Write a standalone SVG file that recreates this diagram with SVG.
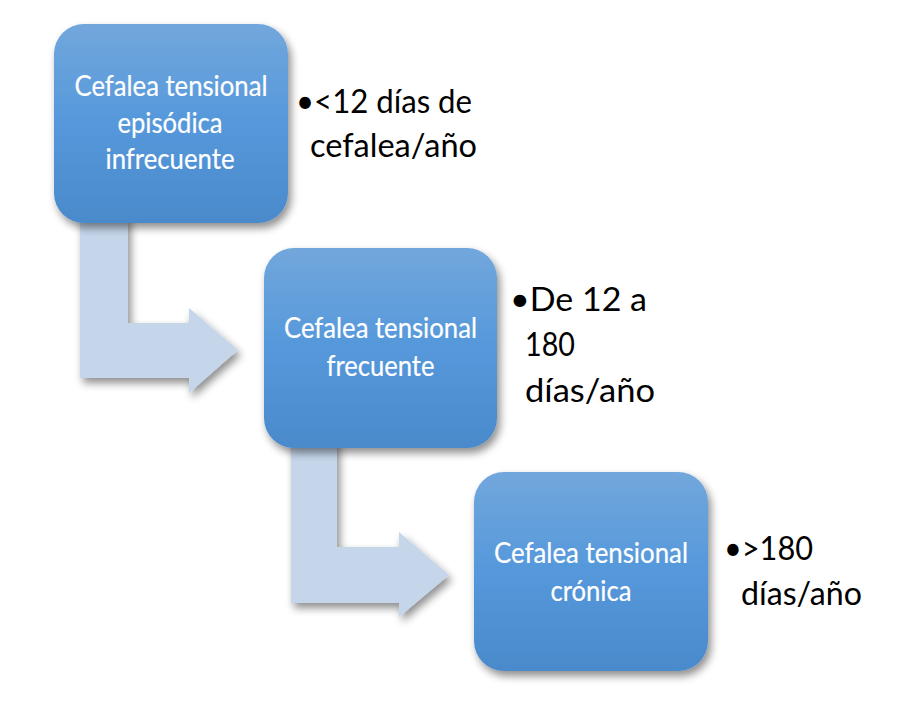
<svg xmlns="http://www.w3.org/2000/svg" width="898" height="704" viewBox="0 0 898 704">
  <defs>
    <linearGradient id="boxGrad" x1="0" y1="0" x2="0" y2="1">
      <stop offset="0" stop-color="#72a7dc"/>
      <stop offset="0.5" stop-color="#5598db"/>
      <stop offset="1" stop-color="#4a8acb"/>
    </linearGradient>
    <filter id="shadow" x="-20%" y="-20%" width="150%" height="150%">
      <feGaussianBlur in="SourceAlpha" stdDeviation="4"/>
      <feOffset dx="3" dy="5" result="b"/>
      <feComponentTransfer><feFuncA type="linear" slope="0.45"/></feComponentTransfer>
      <feMerge><feMergeNode/><feMergeNode in="SourceGraphic"/></feMerge>
    </filter>
  </defs>
  <style>
    .box { fill: url(#boxGrad); filter: url(#shadow); }
    .arrow { fill: #c5d5ea; filter: url(#shadow); }
    .lbl { font-family: Lato, "Open Sans", "Liberation Sans", sans-serif; font-size: 29px; fill: #ffffff; stroke: #ffffff; stroke-width: 0.2; text-anchor: middle; }
    .note { font-family: Lato, "Open Sans", "Liberation Sans", sans-serif; font-size: 32px; fill: #000000; }
    .bul { font-size: 32px; }
  </style>
  <rect width="898" height="704" fill="#ffffff"/>
  <g id="connectors">
    <path class="arrow" d="M80,215 L128,215 L128,323 L189,323 L189,308 L238,350 L189,393 L189,378 L80,378 Z"/>
    <path class="arrow" d="M291,439 L337,439 L337,547 L399,547 L399,532 L449,575 L399,617 L399,603 L291,603 Z"/>
  </g>
  <g id="node1">
    <rect class="box" x="54" y="24" width="234" height="199" rx="30" ry="30"/>
    <text class="lbl" x="171" y="96" textLength="193" lengthAdjust="spacingAndGlyphs">Cefalea tensional</text>
    <text class="lbl" x="170" y="133" textLength="105" lengthAdjust="spacingAndGlyphs">episódica</text>
    <text class="lbl" x="170" y="169" textLength="129" lengthAdjust="spacingAndGlyphs">infrecuente</text>
  </g>
  <g id="note1">
    <text class="note" x="296" y="113" textLength="176" lengthAdjust="spacingAndGlyphs"><tspan class="bul">•</tspan>&lt;12 días de</text>
    <text class="note" x="310" y="157" textLength="167" lengthAdjust="spacingAndGlyphs">cefalea/año</text>
  </g>
  <g id="node2">
    <rect class="box" x="264" y="248" width="233" height="200" rx="30" ry="30"/>
    <text class="lbl" x="380.5" y="338" textLength="193" lengthAdjust="spacingAndGlyphs">Cefalea tensional</text>
    <text class="lbl" x="380.5" y="376" textLength="108" lengthAdjust="spacingAndGlyphs">frecuente</text>
  </g>
  <g id="note2">
    <text class="note" x="510" y="311" textLength="137" lengthAdjust="spacingAndGlyphs"><tspan class="bul">•</tspan>De 12 a</text>
    <text class="note" x="525" y="356" textLength="50" lengthAdjust="spacingAndGlyphs">180</text>
    <text class="note" x="525" y="402" textLength="130" lengthAdjust="spacingAndGlyphs">días/año</text>
  </g>
  <g id="node3">
    <rect class="box" x="474" y="472" width="234" height="199" rx="30" ry="30"/>
    <text class="lbl" x="591" y="563" textLength="194" lengthAdjust="spacingAndGlyphs">Cefalea tensional</text>
    <text class="lbl" x="591" y="601" textLength="81" lengthAdjust="spacingAndGlyphs">crónica</text>
  </g>
  <g id="note3">
    <text class="note" x="724" y="560" textLength="89" lengthAdjust="spacingAndGlyphs"><tspan class="bul">•</tspan>&gt;180</text>
    <text class="note" x="741" y="605" textLength="121" lengthAdjust="spacingAndGlyphs">días/año</text>
  </g>
</svg>
